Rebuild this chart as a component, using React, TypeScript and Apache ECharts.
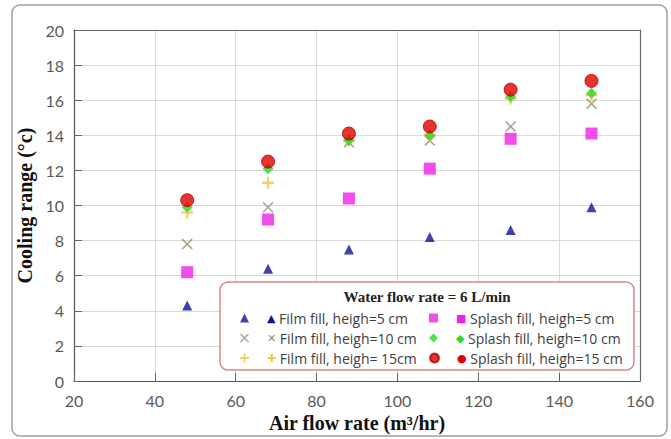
import React, { useEffect, useRef } from "react";
import * as echarts from "echarts";

const airFlow = [48, 68, 88, 108, 128, 148];
const film5 = [4.3, 6.4, 7.5, 8.2, 8.6, 9.9];
const film10 = [7.8, 9.9, 13.6, 13.7, 14.5, 15.8];
const film15 = [9.6, 11.3, 13.7, 14.0, 16.1, 16.3];
const splash5 = [6.2, 9.2, 10.4, 12.1, 13.8, 14.1];
const splash10 = [9.9, 12.1, 13.7, 14.0, 16.2, 16.4];
const splash15 = [10.3, 12.5, 14.1, 14.5, 16.6, 17.1];

const seriesNames = [
  "Film fill, heigh=5 cm",
  "Film fill, heigh=10 cm",
  "Film fill, heigh= 15cm",
  "Splash fill, heigh=5 cm",
  "Splash fill, heigh=10 cm",
  "Splash fill, heigh=15 cm",
];
const legendOrder = [0, 3, 1, 4, 2, 5];

const X_PATH = "path://M1,0 L5,4 L9,0 L10,1 L6,5 L10,9 L9,10 L5,6 L1,10 L0,9 L4,5 L0,1 Z";
const PLUS_PATH = "path://M4,0 H6 V4 H10 V6 H6 V10 H4 V6 H0 V4 H4 Z";

export default function App() {
  const ref = useRef<HTMLDivElement>(null);
  useEffect(() => {
    if (!ref.current) return;
    const chart = echarts.init(ref.current, null, { renderer: "svg" });
    const values = [film5, film10, film15, splash5, splash10, splash15];
    const symbols = ["triangle", X_PATH, PLUS_PATH, "rect", "diamond", "circle"];
    const sizes = [10, 11, 12, 12, 11, 13];
    const colors = ["#10109a", "#9a8a72", "#f2c640", "#f020e8", "#22dd22", "#e00000"];
    const glyphs = ["▲", "✕", "✚", "■", "◆", "●"];
    const rich: any = {};
    glyphs.forEach((g, i) => {
      rich["m" + i] = { color: colors[i], fontSize: 11, fontFamily: "DejaVu Sans", padding: [0, 0, 0, 13] };
    });
    rich.t = { color: "#404040", fontSize: 14, fontFamily: "Open Sans" };
    const series = values.map((v, i) => ({
      name: seriesNames[i],
      type: "scatter",
      symbol: symbols[i],
      symbolSize: sizes[i],
      itemStyle: {
        color: colors[i],
        borderColor: i === 5 ? "#b00000" : undefined,
        borderWidth: i === 5 ? 1 : 0,
      },
      data: airFlow.map((x, j) => [x, v[j]]),
      z: 2 + i,
    }));
    const nameStyle = { fontFamily: "Liberation Serif", fontWeight: "bold", fontSize: 20, color: "#111" };
    const frameAxis = {
      type: "value",
      axisLine: { show: true, onZero: false, lineStyle: { color: "#666", width: 1.2 } },
      axisTick: { show: false },
      axisLabel: { show: false },
      splitLine: { show: false },
    };
    chart.setOption({
      animation: false,
      backgroundColor: "#fff",
      grid: { left: 74, right: 31, top: 30, bottom: 58, outerBoundsMode: "none", containLabel: false },
      xAxis: [
        {
          type: "value",
          min: 20,
          max: 160,
          interval: 20,
          name: "Air flow rate (m³/hr)",
          nameLocation: "middle",
          nameGap: 30,
          nameTextStyle: nameStyle,
          axisLine: { show: true, onZero: false, lineStyle: { color: "#555", width: 1.2 } },
          axisTick: { show: true, inside: true, length: 8, lineStyle: { color: "#666" } },
          axisLabel: { color: "#595959", fontFamily: "Lato", fontSize: 16, margin: 11 },
          splitLine: { show: true, lineStyle: { color: "#d9d9d9" } },
        },
        { ...frameAxis, position: "top", min: 20, max: 160, interval: 20 },
      ],
      yAxis: [
        {
          type: "value",
          min: 0,
          max: 20,
          interval: 2,
          name: "Cooling range (°c)",
          nameLocation: "middle",
          nameGap: 38,
          nameTextStyle: nameStyle,
          axisLine: { show: true, onZero: false, lineStyle: { color: "#555", width: 1.2 } },
          axisTick: { show: true, inside: true, length: 8, lineStyle: { color: "#666" } },
          axisLabel: { color: "#595959", fontFamily: "Lato", fontSize: 16, margin: 10 },
          splitLine: { show: true, lineStyle: { color: "#d9d9d9" } },
        },
        { ...frameAxis, position: "right", min: 0, max: 20, interval: 2 },
      ],
      legend: {
        show: true,
        data: legendOrder.map((i) => ({ name: seriesNames[i], icon: symbols[i] })),
        left: 235,
        top: 306,
        width: 400,
        orient: "horizontal",
        itemWidth: 9,
        itemHeight: 9,
        itemGap: 6,
        z: 10,
        formatter: (name: string) => {
          const idx = seriesNames.indexOf(name);
          return "{m" + idx + "|" + glyphs[idx] + "}{t| " + name + "}";
        },
        textStyle: { width: 169, lineHeight: 14, rich },
      },
      graphic: [
        {
          type: "rect",
          shape: { x: 12, y: 5, width: 655, height: 431, r: 8 },
          style: { fill: "none", stroke: "#a0a0a0", lineWidth: 1.5 },
          z: 1,
          silent: true,
        },
        {
          type: "rect",
          shape: { x: 220, y: 282, width: 414, height: 88, r: 8 },
          style: { fill: "#fff", stroke: "#d08a8a", lineWidth: 1.5 },
          z: 5,
          silent: true,
        },
        {
          type: "text",
          x: 427,
          y: 297,
          style: {
            text: "Water flow rate = 6 L/min",
            fontFamily: "Liberation Serif",
            fontWeight: "bold",
            fontSize: 15,
            fill: "#222",
            align: "center",
            verticalAlign: "middle",
          },
          z: 6,
          silent: true,
        },
      ],
      series,
    });
    return () => chart.dispose();
  }, []);
  return <div ref={ref} style={{ width: 671, height: 439, position: "absolute", left: 0, top: 0 }} />;
}
